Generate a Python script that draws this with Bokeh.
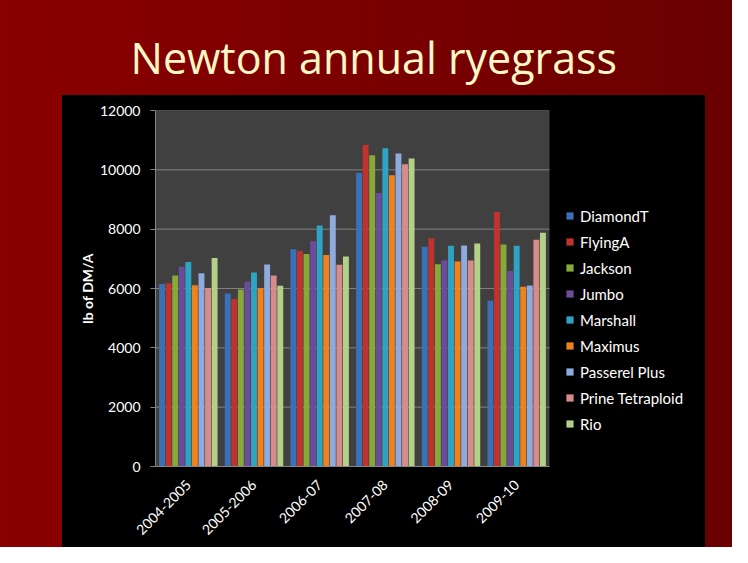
import math
from bokeh.plotting import figure
from bokeh.models import ColumnDataSource, Range1d, Legend, BoxAnnotation, FixedTicker
from bokeh.transform import dodge
from bokeh.embed import file_html
from bokeh.resources import INLINE

periods = ["2004-2005", "2005-2006", "2006-07", "2007-08", "2008-09", "2009-10"]
varieties = ["DiamondT", "FlyingA", "Jackson", "Jumbo", "Marshall", "Maximus",
             "Passerel Plus", "Prine Tetraploid", "Rio"]
diamondt = [6150, 5830, 7320, 9890, 7410, 5590]
flyinga = [6180, 5650, 7260, 10840, 7690, 8580]
jackson = [6440, 5970, 7160, 10490, 6820, 7480]
jumbo = [6730, 6230, 7590, 9220, 6940, 6590]
marshall = [6890, 6540, 8120, 10730, 7440, 7440]
maximus = [6110, 6010, 7130, 9820, 6910, 6060]
passerel_plus = [6510, 6810, 8470, 10550, 7450, 6100]
prine_tetraploid = [6020, 6440, 6800, 10190, 6940, 7640]
rio = [7030, 6090, 7080, 10380, 7520, 7880]
y_ticks = [0, 2000, 4000, 6000, 8000, 10000, 12000]

series = [diamondt, flyinga, jackson, jumbo, marshall, maximus,
          passerel_plus, prine_tetraploid, rio]
colors = ["#3A70B8", "#C0322D", "#86A93A", "#6B4C9A", "#2FA3C3", "#F0821E",
          "#8FAADC", "#D88C8A", "#B3CF88"]

n = len(periods)
centers = [k + 0.5 for k in range(n)]
data = {"period": periods, "center": centers}
for name, vals in zip(varieties, series):
    data[name] = vals
source = ColumnDataSource(data)

# layout in pixels: grey plot area 394 px wide inside a 549 px frame
plot_px, frame_px = 394, 549
x_end = n * frame_px / plot_px

p = figure(width=732, height=547, x_range=Range1d(0, x_end),
           y_range=Range1d(y_ticks[0], y_ticks[-1]), output_backend="svg",
           toolbar_location=None, tools="",
           min_border_left=155, min_border_right=28,
           min_border_top=110, min_border_bottom=81)
p.border_fill_color = None
p.background_fill_color = "black"
p.outline_line_color = None
p.styles = {
    "background": ("linear-gradient(#000000, #000000) 62px 95px / 643px 470px no-repeat, "
                   "linear-gradient(to right, #8a0000 0%, #7a0000 50%, #6a0000 100%)")
}

# grey plot area
p.add_layout(BoxAnnotation(left=0, right=n, bottom=y_ticks[0], top=y_ticks[-1],
                           fill_color="#404040", fill_alpha=1, line_color=None,
                           level="image"))

p.xgrid.grid_line_color = None
p.ygrid.grid_line_color = None
# horizontal gridlines limited to the plot area
p.segment(x0=[0] * len(y_ticks), x1=[n] * len(y_ticks), y0=y_ticks, y1=y_ticks,
          line_color="#808080", line_width=1, level="underlay")

renderers = []
for i, (name, col) in enumerate(zip(varieties, colors)):
    r = p.vbar(x=dodge("center", (i - 4) * 0.1), top=name,
               width=0.09, source=source, fill_color=col, line_color=None)
    renderers.append((name, [r]))

legend = Legend(items=renderers, location=(410, 32), margin=0, padding=0,
                spacing=5, label_height=21, glyph_height=9, glyph_width=9,
                label_standoff=6, background_fill_alpha=0, border_line_alpha=0,
                label_text_color="white", label_text_font="Lato",
                label_text_font_size="15px")
p.add_layout(legend)

p.yaxis.ticker = y_ticks
p.yaxis.minor_tick_line_color = None
p.yaxis.major_tick_in = 0
p.yaxis.major_tick_out = 5
p.yaxis.major_tick_line_color = "#868686"
p.yaxis.axis_line_color = "#868686"
p.yaxis.major_label_text_color = "white"
p.yaxis.major_label_text_font = "Lato"
p.yaxis.major_label_text_font_size = "14px"
p.yaxis.major_label_standoff = 10
p.yaxis.axis_label = "lb of DM/A"
p.yaxis.axis_label_text_color = "white"
p.yaxis.axis_label_text_font = "Lato"
p.yaxis.axis_label_text_font_style = "bold"
p.yaxis.axis_label_text_font_size = "14px"
p.yaxis.axis_label_standoff = 1

p.xaxis.ticker = FixedTicker(ticks=centers)
p.xaxis.major_label_overrides = {c: lab for c, lab in zip(centers, periods)}
p.xaxis.bounds = (0, n)
p.xaxis.major_tick_line_color = None
p.xaxis.minor_tick_line_color = None
p.xaxis.axis_line_color = "#868686"
p.xaxis.major_label_orientation = math.pi / 4
p.xaxis.major_label_text_color = "white"
p.xaxis.major_label_text_font = "Lato"
p.xaxis.major_label_text_font_size = "14px"
p.xaxis.major_label_standoff = 10

p.title.text = "Newton annual ryegrass"
p.title.align = "left"
p.title.offset = -25
p.title.text_color = "#FFF8C6"
p.title.text_font = "Open Sans"
p.title.text_font_size = "43px"
p.title.text_font_style = "normal"
p.title.standoff = 48

open("out.html", "w").write(file_html(p, INLINE))
